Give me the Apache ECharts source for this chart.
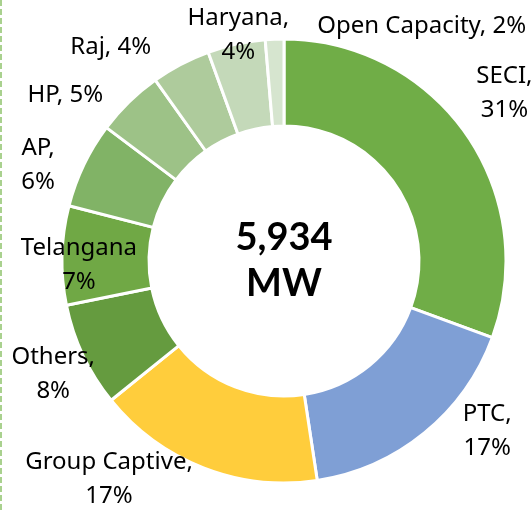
<!DOCTYPE html>
<html>
<head>
<meta charset="utf-8">
<script src="https://cdn.jsdelivr.net/npm/echarts@6/dist/echarts.min.js"></script>
<style>
  html, body { margin: 0; padding: 0; background: #fff; }
  #chart { width: 532px; height: 510px; }
</style>
</head>
<body>
<div id="chart"></div>
<script>
// capacity by offtaker, MW (total 5,934)
const names = ["SECI", "PTC", "Group Captive", "Others", "Telangana", "AP", "HP", "Raj", "Haryana", "Open Capacity"];
const values = [1816, 1009, 985, 451, 427, 371, 291, 255, 249, 80];
const pctLabels = ["31%", "17%", "17%", "8%", "7%", "6%", "5%", "4%", "4%", "2%"];
const separators = [",\n", ",\n", ",\n", ",\n", "\n", ",\n", ", ", ", ", ",\n", ", "];
const colors = ["#70ad47", "#7f9fd5", "#ffcd3c", "#659b3f", "#70a845", "#81b366", "#9dc287", "#aecb9c", "#c4d9b9", "#d6e5cf"];
const totalText = ["5,934", "MW"];

// hand nudges so labels sit where the original ones were
const labelNudge = [[-3, -35], [27, -10], [-2, 2], [26, 14], [90, 10], [-15, 5], [-14, 0], [-20, -8], [60, 1], [257, -3]];

const center = [284, 261];
const chart = echarts.init(document.getElementById("chart"));

chart.setOption({
  animation: false,
  textStyle: { fontFamily: "Noto Sans" },
  graphic: [
    {
      type: "line",
      shape: { x1: 1, y1: 0, x2: 1, y2: 510 },
      style: { stroke: "#a9d18e", lineWidth: 2, lineDash: [6, 3] }
    },
    {
      type: "text",
      x: center[0],
      y: center[1],
      style: {
        text: totalText.join("\n"),
        fontFamily: "Lato",
        fontWeight: "bold",
        fontSize: 38,
        lineHeight: 46,
        fill: "#000",
        align: "center",
        verticalAlign: "middle"
      }
    }
  ],
  series: [
    {
      type: "pie",
      center: center,
      radius: [135, 222],
      startAngle: 90,
      clockwise: true,
      avoidLabelOverlap: false,
      itemStyle: { borderColor: "#fff", borderWidth: 3 },
      label: {
        show: true,
        position: "outside",
        fontFamily: "Noto Sans",
        fontSize: 24,
        lineHeight: 34,
        color: "#000",
        formatter: (p) => names[p.dataIndex] + separators[p.dataIndex] + pctLabels[p.dataIndex]
      },
      labelLine: { show: false, length: 10, length2: 0 },
      labelLayout: (p) => ({
        x: p.labelRect.x + p.labelRect.width / 2 + labelNudge[p.dataIndex][0],
        y: p.labelRect.y + p.labelRect.height / 2 + labelNudge[p.dataIndex][1],
        align: "center",
        verticalAlign: "middle"
      }),
      data: names.map((n, i) => ({
        name: n,
        value: values[i],
        itemStyle: { color: colors[i] }
      }))
    }
  ]
});
</script>
</body>
</html>
